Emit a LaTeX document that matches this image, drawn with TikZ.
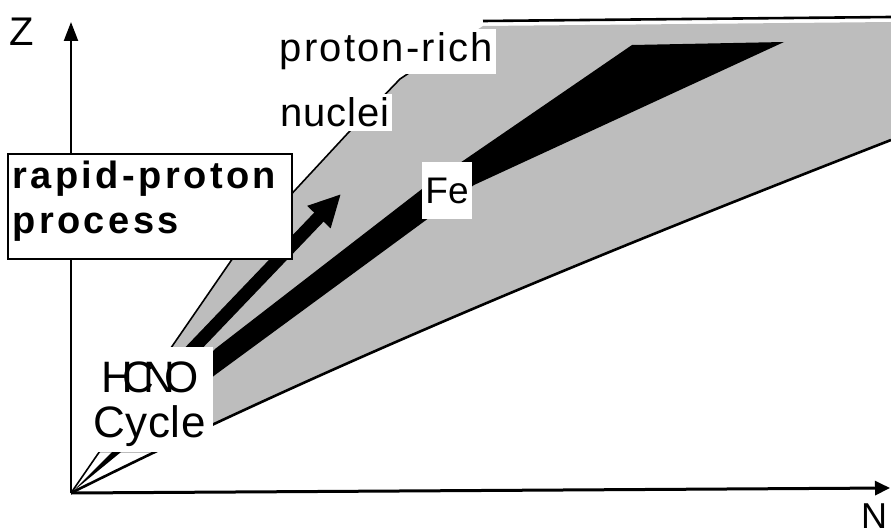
\documentclass[tikz,border=0pt]{standalone}
\usepackage{fontspec}
\setmainfont{Liberation Sans}
\usetikzlibrary{arrows.meta}
\definecolor{halftone}{gray}{0.74}
\tikzset{
  zaxis/.style={line width=2.2pt, -{Triangle[length=19pt,width=14pt]}},
  naxis/.style={line width=3pt, -{Triangle[length=15pt,width=14pt]}},
  edgeline/.style={line width=1.6pt, line join=round},
  boldline/.style={line width=2.6pt},
  whitebox/.style={fill=white, inner sep=0pt},
  lbl/.style={inner sep=0pt, anchor=base west},
  whitelbl/.style={fill=white, inner xsep=3pt, inner ysep=4pt, anchor=base west},
  rpfont/.style={font=\fontsize{38}{45}\selectfont\bfseries\addfontfeatures{LetterSpace=9}},
  prfont/.style={font=\fontsize{40}{45}\selectfont\addfontfeatures{LetterSpace=5.5}},
  nufont/.style={font=\fontsize{40}{45}\selectfont\addfontfeatures{LetterSpace=2}},
}
\begin{document}
\begin{tikzpicture}[x=1pt,y=-1pt]
\useasboundingbox (0,0) rectangle (891,532);
\coordinate (O) at (71,493);
\coordinate (zend) at (71,22);
\coordinate (nend) at (890,488);

% grey valley band
\begin{scope}
\clip (0,0) rectangle (891,452);
\fill[halftone] (O) -- (235,255) -- (348,133) -- (400,79) -- (483,26) -- (891,22)
  -- (891,140) .. controls (618,246.5) and (345,356.5) .. (O) -- cycle;
\end{scope}
% band outlines
\draw[edgeline] (O) -- (235,255) -- (348,133) -- (400,79) -- (412,71);
\draw[boldline] (483,21) -- (891,17);
\draw[boldline] (O) .. controls (345,356.5) and (618,246.5) .. (891,140);

% black path
\fill[black] (O) -- (215,349) -- (422,189) -- (632,45) -- (784,42) -- (474,185)
  -- (422,223) -- (215,375) -- cycle;

% rp-process arrow
\coordinate (arS) at (185,357);
\coordinate (arT) at (341,194);
\draw[line width=13pt, -{Triangle[length=32pt,width=30pt]}] (arS) -- (arT);

% axes
\draw[zaxis] (O) -- (zend);
\draw[naxis] (O) -- (nend);

% labels
\node[whitebox, minimum width=125pt, minimum height=105pt, anchor=north west] (hcbox) at (88,347) {};
\node[lbl, font=\fontsize{44}{44}\selectfont\addfontfeatures{LetterSpace=-25}] (hcno) at (101.5,392) {HCNO};
\node[lbl, font=\fontsize{44}{44}\selectfont\addfontfeatures{LetterSpace=1.5}] (cycle) at (92.8,437) {Cycle};

\node[draw, line width=1.8pt, fill=white, minimum width=284pt, minimum height=105pt,
  inner sep=0pt, anchor=north west] (rpbox) at (7,153) {};
\node[lbl, rpfont] (rp1) at (12.3,188) {rapid-proton};
\node[lbl, rpfont] (rp2) at (12.3,233) {process};

\node[whitelbl, prfont] (pr) at (276.4,62) {proton-rich};
\node[whitelbl, nufont] (nu) at (277.4,127) {nuclei};

\node[whitebox, minimum width=50pt, minimum height=57pt, font=\fontsize{37}{37}\selectfont] (fe) at (447,190.5) {Fe};

\node[lbl, font=\fontsize{40}{40}\selectfont] (zl) at (9,46) {Z};
\node[lbl, font=\fontsize{36}{36}\selectfont] (nl) at (861,528) {N};
\end{tikzpicture}
\end{document}
